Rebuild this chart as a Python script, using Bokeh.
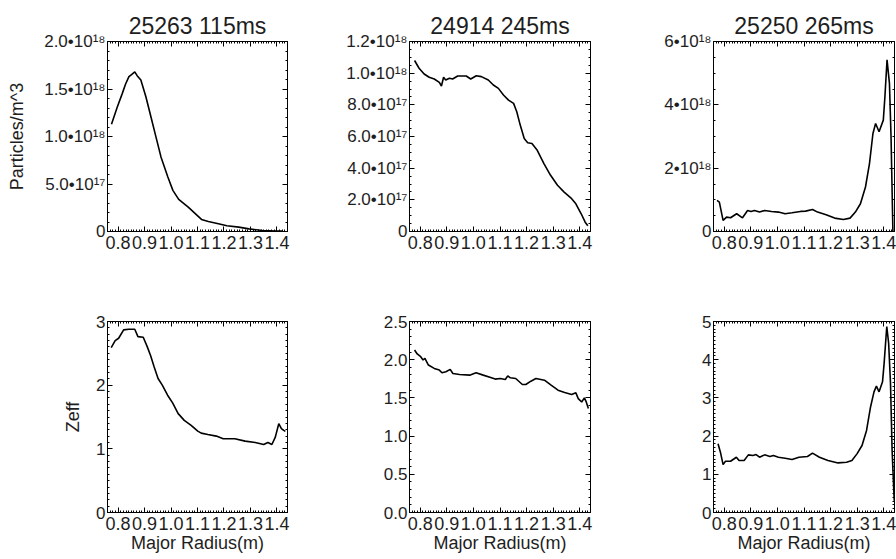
from bokeh.plotting import figure
from bokeh.layouts import column, row
from bokeh.models import LinearAxis, SingleIntervalTicker, CustomJSTickFormatter, Range1d
from bokeh.embed import file_html
from bokeh.resources import INLINE

# ---------------- data ----------------
titles = ["25263 115ms", "24914 245ms", "25250 265ms"]
x_label = "Major Radius(m)"
y_label_top = "Particles/m^3"
y_label_bottom = "Zeff"

x_tick_values = [0.8, 0.9, 1.0, 1.1, 1.2, 1.3, 1.4]
x_tick_labels = ["0.8", "0.9", "1.0", "1.1", "1.2", "1.3", "1.4"]

# panel 1: density 25263 115ms
r1 = [0.775, 0.797, 0.816, 0.828, 0.841, 0.852, 0.863, 0.872, 0.886, 0.905, 0.924, 0.943,
      0.962, 0.988, 1.007, 1.029, 1.065, 1.115, 1.141, 1.179, 1.211, 1.256, 1.294, 1.345,
      1.396, 1.422]
n1 = [1.13e18, 1.31e18, 1.454e18, 1.55e18, 1.63e18, 1.655e18, 1.68e18, 1.64e18, 1.595e18,
      1.419e18, 1.208e18, 0.996e18, 0.785e18, 0.574e18, 0.433e18, 0.338e18, 0.257e18,
      0.127e18, 0.106e18, 0.081e18, 0.060e18, 0.046e18, 0.028e18, 0.011e18, 0.004e18, 0.004e18]

# panel 2: density 24914 245ms
r2 = [0.779, 0.796, 0.815, 0.834, 0.853, 0.872, 0.880, 0.888, 0.896, 0.910, 0.922, 0.941,
      0.973, 0.990, 1.011, 1.030, 1.056, 1.075, 1.094, 1.113, 1.132, 1.151, 1.163, 1.176,
      1.191, 1.204, 1.220, 1.240, 1.265, 1.290, 1.316, 1.341, 1.366, 1.385, 1.405, 1.420, 1.430]
n2 = [1.080e18, 1.031e18, 0.995e18, 0.974e18, 0.963e18, 0.942e18, 0.919e18, 0.974e18,
      0.957e18, 0.968e18, 0.963e18, 0.982e18, 0.982e18, 0.963e18, 0.984e18, 0.978e18,
      0.957e18, 0.925e18, 0.904e18, 0.862e18, 0.830e18, 0.809e18, 0.756e18, 0.672e18,
      0.587e18, 0.560e18, 0.556e18, 0.513e18, 0.429e18, 0.355e18, 0.292e18, 0.249e18,
      0.213e18, 0.175e18, 0.112e18, 0.059e18, 0.036e18]

# panel 3: density 25250 265ms
r3 = [0.773, 0.782, 0.796, 0.809, 0.824, 0.847, 0.869, 0.888, 0.901, 0.914, 0.933, 0.952,
      0.978, 1.004, 1.029, 1.055, 1.087, 1.106, 1.132, 1.151, 1.183, 1.215, 1.248, 1.273,
      1.293, 1.312, 1.331, 1.346, 1.359, 1.369, 1.382, 1.398, 1.404, 1.412, 1.421, 1.427, 1.434]
n3 = [0.982e18, 0.93e18, 0.349e18, 0.454e18, 0.433e18, 0.560e18, 0.433e18, 0.665e18,
      0.634e18, 0.665e18, 0.613e18, 0.665e18, 0.634e18, 0.613e18, 0.560e18, 0.592e18,
      0.634e18, 0.644e18, 0.697e18, 0.613e18, 0.528e18, 0.423e18, 0.380e18, 0.423e18,
      0.613e18, 0.877e18, 1.405e18, 2.144e18, 3.095e18, 3.412e18, 3.148e18, 3.517e18,
      4.257e18, 5.419e18, 4.68e18, 2.99e18, 0.0]

# panel 4: Zeff 25263 115ms
r4 = [0.774, 0.789, 0.802, 0.821, 0.840, 0.863, 0.875, 0.895, 0.910, 0.923, 0.936, 0.951,
      0.967, 0.987, 1.006, 1.027, 1.050, 1.076, 1.101, 1.114, 1.139, 1.171, 1.197, 1.241,
      1.280, 1.318, 1.350, 1.366, 1.381, 1.394, 1.407, 1.417, 1.426, 1.432]
z4 = [2.589, 2.700, 2.737, 2.868, 2.879, 2.879, 2.763, 2.753, 2.605, 2.463, 2.289, 2.105,
      2.0, 1.842, 1.721, 1.553, 1.447, 1.368, 1.279, 1.247, 1.226, 1.2, 1.158, 1.158,
      1.121, 1.1, 1.068, 1.1, 1.068, 1.184, 1.395, 1.316, 1.289, 1.274]

# panel 5: Zeff 24914 245ms
r5 = [0.779, 0.789, 0.802, 0.811, 0.818, 0.831, 0.853, 0.872, 0.882, 0.897, 0.913, 0.923,
      0.948, 0.986, 1.010, 1.037, 1.065, 1.082, 1.101, 1.120, 1.129, 1.139, 1.159, 1.184,
      1.197, 1.216, 1.235, 1.267, 1.292, 1.318, 1.343, 1.369, 1.385, 1.394, 1.407, 1.417,
      1.424, 1.432]
z5 = [2.127, 2.075, 2.039, 1.996, 2.018, 1.930, 1.886, 1.864, 1.829, 1.842, 1.873, 1.820,
      1.807, 1.798, 1.829, 1.798, 1.768, 1.746, 1.754, 1.741, 1.789, 1.763, 1.754, 1.675,
      1.675, 1.719, 1.754, 1.732, 1.667, 1.601, 1.570, 1.544, 1.566, 1.491, 1.447, 1.5,
      1.447, 1.360]

# panel 6: Zeff 25250 265ms
r6 = [0.777, 0.786, 0.796, 0.805, 0.824, 0.846, 0.856, 0.875, 0.891, 0.908, 0.920, 0.933,
      0.952, 0.972, 0.985, 1.004, 1.029, 1.055, 1.081, 1.113, 1.132, 1.158, 1.190, 1.228,
      1.260, 1.280, 1.299, 1.318, 1.335, 1.350, 1.363, 1.372, 1.382, 1.395, 1.401, 1.411,
      1.418, 1.425, 1.431, 1.439]
z6 = [1.798, 1.579, 1.254, 1.342, 1.342, 1.447, 1.360, 1.360, 1.509, 1.491, 1.518, 1.447,
      1.509, 1.465, 1.491, 1.447, 1.421, 1.386, 1.447, 1.465, 1.553, 1.447, 1.360, 1.298,
      1.316, 1.360, 1.535, 1.754, 2.149, 2.763, 3.158, 3.307, 3.158, 3.421, 3.904, 4.868,
      4.430, 3.377, 1.623, 0.307]

y_ticks_1 = [0.0, 5e17, 1e18, 1.5e18, 2e18]
y_labels_1 = ["0", "5.0•10¹⁷", "1.0•10¹⁸", "1.5•10¹⁸", "2.0•10¹⁸"]
y_ticks_2 = [0.0, 2e17, 4e17, 6e17, 8e17, 1e18, 1.2e18]
y_labels_2 = ["0", "2.0•10¹⁷", "4.0•10¹⁷", "6.0•10¹⁷", "8.0•10¹⁷", "1.0•10¹⁸", "1.2•10¹⁸"]
y_ticks_3 = [0.0, 2e18, 4e18, 6e18]
y_labels_3 = ["0", "2•10¹⁸", "4•10¹⁸", "6•10¹⁸"]
y_ticks_4 = [0, 1, 2, 3]
y_labels_4 = ["0", "1", "2", "3"]
y_ticks_5 = [0.0, 0.5, 1.0, 1.5, 2.0, 2.5]
y_labels_5 = ["0.0", "0.5", "1.0", "1.5", "2.0", "2.5"]
y_ticks_6 = [0, 1, 2, 3, 4, 5]
y_labels_6 = ["0", "1", "2", "3", "4", "5"]

# ---------------- styling ----------------
FONT = "Liberation Sans"
TXT = "#1e1e1e"
FMT_CODE = """
const i = tvals.findIndex(t => Math.abs(t - tick) <= 1e-6 * Math.max(1, Math.abs(t)));
return i >= 0 ? tlabels[i] : "";
"""


def style_axis(ax, font_size):
    ax.axis_line_color = "black"
    ax.major_tick_in = 5
    ax.major_tick_out = 0
    ax.minor_tick_in = 2
    ax.minor_tick_out = 0
    ax.major_tick_line_color = "black"
    ax.minor_tick_line_color = "black"
    ax.major_label_text_font = FONT
    ax.major_label_text_color = TXT
    ax.major_label_text_font_size = font_size
    ax.axis_label_text_font = FONT
    ax.axis_label_text_color = TXT
    ax.axis_label_text_font_style = "normal"
    ax.axis_label_text_font_size = "18px"


def panel(xs, ys, ymax, yint, yminor, yticks, ylabels, title, ylabel, xlabel,
          width, height, bl, br, bt, bb):
    p = figure(width=width, height=height, output_backend="svg", toolbar_location=None,
               x_range=Range1d(0.76, 1.44), y_range=Range1d(0, ymax),
               min_border_left=bl, min_border_right=br, min_border_top=bt,
               min_border_bottom=bb)
    if title:
        p.title.text = title
        p.title.align = "center"
        p.title.text_font = FONT
        p.title.text_font_size = "23px"
        p.title.text_font_style = "normal"
        p.title.text_color = TXT
        p.title.standoff = 6
    p.outline_line_color = "black"
    p.xgrid.grid_line_color = None
    p.ygrid.grid_line_color = None

    xb = p.xaxis[0]
    xb.ticker = SingleIntervalTicker(interval=0.1, num_minor_ticks=10)
    xb.formatter = CustomJSTickFormatter(args=dict(tvals=x_tick_values, tlabels=x_tick_labels),
                                         code=FMT_CODE)
    xb.axis_label = xlabel
    style_axis(xb, "18px")
    xb.major_label_standoff = 4
    xb.axis_label_standoff = 0

    yl = p.yaxis[0]
    yl.ticker = SingleIntervalTicker(interval=yint, num_minor_ticks=yminor)
    yl.formatter = CustomJSTickFormatter(args=dict(tvals=yticks, tlabels=ylabels),
                                         code=FMT_CODE)
    yl.axis_label = ylabel
    style_axis(yl, "17px")
    yl.major_label_standoff = 2
    yl.axis_label_standoff = 14 if ylabel == y_label_top else 10

    xa = LinearAxis(ticker=SingleIntervalTicker(interval=0.1, num_minor_ticks=10),
                    formatter=CustomJSTickFormatter(code="return '';"))
    style_axis(xa, "10px")
    xa.major_label_standoff = 0
    p.add_layout(xa, "above")
    yr = LinearAxis(ticker=SingleIntervalTicker(interval=yint, num_minor_ticks=yminor),
                    formatter=CustomJSTickFormatter(code="return '';"))
    style_axis(yr, "10px")
    yr.major_label_standoff = 0
    p.add_layout(yr, "right")

    p.line(xs, ys, line_color="black", line_width=1.6)
    return p


p1 = panel(r1, n1, 2e18, 5e17, 5, y_ticks_1, y_labels_1, titles[0], y_label_top, None,
           300, 280, 107, 13, 41, 49)
p2 = panel(r2, n2, 1.2e18, 2e17, 4, y_ticks_2, y_labels_2, titles[1], None, None,
           300, 280, 109, 10, 41, 49)
p3 = panel(r3, n3, 6e18, 2e18, 4, y_ticks_3, y_labels_3, titles[2], None, None,
           296, 280, 113, 2, 41, 49)
p4 = panel(r4, z4, 3, 1, 10, y_ticks_4, y_labels_4, None, y_label_bottom, x_label,
           300, 279, 107, 13, 41, 47)
p5 = panel(r5, z5, 2.5, 0.5, 5, y_ticks_5, y_labels_5, None, None, x_label,
           300, 279, 109, 10, 41, 47)
p6 = panel(r6, z6, 5, 1, 10, y_ticks_6, y_labels_6, None, None, x_label,
           296, 279, 113, 2, 41, 47)

layout = column(row(p1, p2, p3), row(p4, p5, p6))
open("out.html", "w").write(file_html(layout, INLINE))
